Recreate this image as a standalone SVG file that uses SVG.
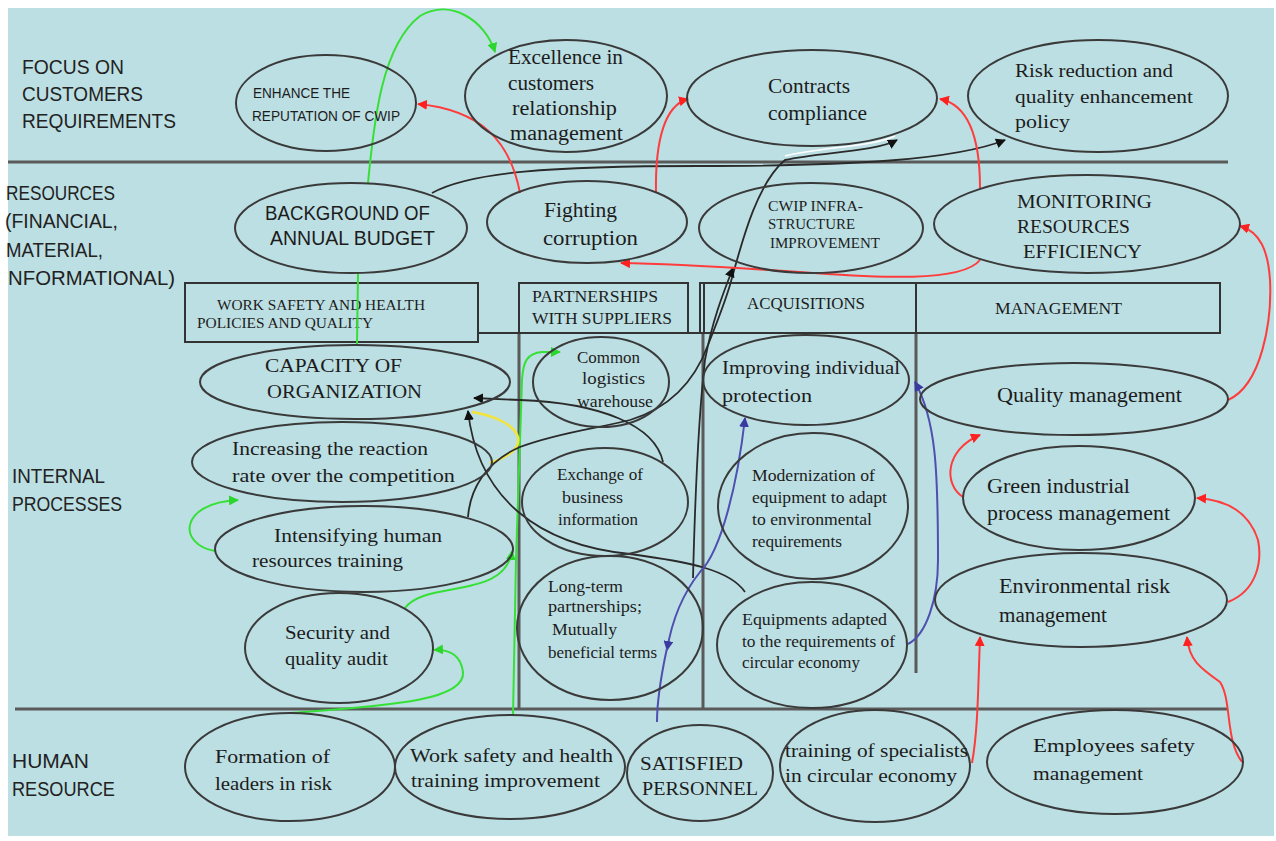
<svg xmlns="http://www.w3.org/2000/svg" width="1276" height="841" viewBox="0 0 1276 841">
<style>
.ell{fill:none;stroke:#3a3a3a;stroke-width:2}
.div{stroke:#5a5a5a;stroke-width:3;fill:none}
.box{fill:none;stroke:#333;stroke-width:2}
.lab{font-family:"Liberation Sans",Arial,sans-serif;font-size:20px;fill:#222}
.t{font-family:"Liberation Serif","Times New Roman",serif;fill:#1c1c1c}
.s{font-family:"Liberation Sans",Arial,sans-serif;fill:#1c1c1c}
.g{fill:none;stroke:#36e036;stroke-width:2}
.r{fill:none;stroke:#ff3c3c;stroke-width:2}
.k{fill:none;stroke:#2a2a2a;stroke-width:1.8}
.b{fill:none;stroke:#4f4fb0;stroke-width:2}
.y{fill:none;stroke:#f3e43c;stroke-width:2.5}
</style>
<defs>
<marker id="ag" viewBox="0 0 10 10" refX="9" refY="5" markerWidth="10" markerHeight="10" markerUnits="userSpaceOnUse" orient="auto-start-reverse"><path d="M0,0L10,5L0,10z" fill="#2cd62c"/></marker>
<marker id="ar" viewBox="0 0 10 10" refX="9" refY="5" markerWidth="10" markerHeight="10" markerUnits="userSpaceOnUse" orient="auto-start-reverse"><path d="M0,0L10,5L0,10z" fill="#ff2020"/></marker>
<marker id="ak" viewBox="0 0 10 10" refX="9" refY="5" markerWidth="10" markerHeight="10" markerUnits="userSpaceOnUse" orient="auto-start-reverse"><path d="M0,0L10,5L0,10z" fill="#111"/></marker>
<marker id="ab" viewBox="0 0 10 10" refX="9" refY="5" markerWidth="10" markerHeight="10" markerUnits="userSpaceOnUse" orient="auto-start-reverse"><path d="M0,0L10,5L0,10z" fill="#3a3aa0"/></marker>
</defs>
<rect x="8" y="8" width="1266" height="828" fill="#bcdfe3"/>

<g id="grid">
<line class="div" x1="8" y1="162" x2="1228" y2="162"/>
<line class="div" x1="15" y1="709" x2="1228" y2="709"/>
<line class="div" x1="519" y1="333" x2="519" y2="709"/>
<line class="div" x1="703" y1="333" x2="703" y2="709"/>
<line class="div" x1="916" y1="333" x2="916" y2="673"/>
<line class="box" x1="478" y1="333" x2="1220" y2="333"/>
</g>

<g id="row-labels">
<text class="lab" x="22" y="74" textLength="102" lengthAdjust="spacingAndGlyphs">FOCUS ON</text>
<text class="lab" x="22" y="101" textLength="121" lengthAdjust="spacingAndGlyphs">CUSTOMERS</text>
<text class="lab" x="22" y="128" textLength="154" lengthAdjust="spacingAndGlyphs">REQUIREMENTS</text>
<text class="lab" x="6" y="200" textLength="109" lengthAdjust="spacingAndGlyphs">RESOURCES</text>
<text class="lab" x="5" y="228" textLength="113" lengthAdjust="spacingAndGlyphs">(FINANCIAL,</text>
<text class="lab" x="6" y="257" textLength="97" lengthAdjust="spacingAndGlyphs">MATERIAL,</text>
<text class="lab" x="8" y="285" textLength="167" lengthAdjust="spacingAndGlyphs">NFORMATIONAL)</text>
<text class="lab" x="12" y="483" textLength="93" lengthAdjust="spacingAndGlyphs">INTERNAL</text>
<text class="lab" x="12" y="511" textLength="110" lengthAdjust="spacingAndGlyphs">PROCESSES</text>
<text class="lab" x="12" y="768" textLength="77" lengthAdjust="spacingAndGlyphs">HUMAN</text>
<text class="lab" x="12" y="796" textLength="103" lengthAdjust="spacingAndGlyphs">RESOURCE</text>
</g>

<g id="hdr-worksafety">
<rect class="box" x="185" y="283" width="293" height="59"/>
<text class="t" font-size="15" x="217" y="310" textLength="208" lengthAdjust="spacingAndGlyphs">WORK SAFETY AND HEALTH</text>
<text class="t" font-size="15" x="197" y="328" textLength="176" lengthAdjust="spacingAndGlyphs">POLICIES AND QUALITY</text>
</g>
<g id="hdr-partnerships">
<rect class="box" x="519" y="283" width="169" height="50"/>
<text class="t" font-size="16" x="532" y="302" textLength="126" lengthAdjust="spacingAndGlyphs">PARTNERSHIPS</text>
<text class="t" font-size="16" x="532" y="324" textLength="140" lengthAdjust="spacingAndGlyphs">WITH SUPPLIERS</text>
</g>
<g id="hdr-acquisitions">
<rect class="box" x="700" y="283" width="216" height="50"/>
<line class="box" x1="704" y1="283" x2="704" y2="333"/>
<text class="t" font-size="16" x="747" y="309" textLength="118" lengthAdjust="spacingAndGlyphs">ACQUISITIONS</text>
</g>
<g id="hdr-management">
<rect class="box" x="916" y="283" width="304" height="50"/>
<text class="t" font-size="16" x="995" y="314" textLength="127" lengthAdjust="spacingAndGlyphs">MANAGEMENT</text>
</g>

<g id="connectors">
<path class="g" d="M358,273 L357,345"/>
<path class="g" d="M368,183 C374,120 382,45 420,16 C450,-2 485,20 495,52" marker-end="url(#ag)"/>
<path class="g" d="M215,551 C178,545 178,503 238,500" marker-end="url(#ag)"/>
<path class="g" d="M405,608 C425,580 505,600 512,551" marker-end="url(#ag)"/>
<path class="g" d="M290,713 C380,706 466,702 463,672 C461,656 450,649 434,650" marker-end="url(#ag)"/>
<path class="g" d="M513,716 L516,560 L522,380 C523,362 527,353 542,352 L560,352" marker-end="url(#ag)"/>
<path class="y" d="M490,463 C505,458 521,450 518,437 C514,424 492,415 472,412"/>
<path class="k" d="M432,193 C470,172 550,166 700,166 C850,166 955,160 1005,140" marker-end="url(#ak)"/>
<path d="M785,156 C820,147 872,147 895,136" fill="none" stroke="#fff" stroke-width="1.5"/>
<path class="k" d="M468,517 C470,490 485,462 520,447 C560,432 600,428 630,420 C670,408 695,380 708,345 C716,325 724,305 730,285 C740,250 755,185 785,160 C820,152 875,152 897,140" marker-end="url(#ak)"/>
<path class="k" d="M693,578 C695,500 698,420 705,360 C712,322 722,296 733,268" marker-end="url(#ak)"/>
<path class="k" d="M663,462 C655,425 600,403 520,400 L474,398" marker-end="url(#ak)"/>
<path class="k" d="M745,592 C730,570 690,562 630,554 C540,545 478,500 468,411" marker-end="url(#ak)"/>
<path class="b" d="M745,418 C738,480 722,550 700,572 C684,592 672,620 667,650" marker-start="url(#ab)" marker-end="url(#ab)"/>
<path class="b" d="M667,648 C661,676 657,700 657,722"/>
<path class="b" d="M908,644 C926,635 938,600 938,560 C938,470 936,420 915,382" marker-end="url(#ab)"/>
<path class="r" d="M520,193 C510,140 480,110 418,104" marker-end="url(#ar)"/>
<path class="r" d="M656,193 C655,140 665,105 688,99" marker-end="url(#ar)"/>
<path class="r" d="M980,188 C980,140 970,105 940,99" marker-end="url(#ar)"/>
<path class="r" d="M980,260 C960,285 860,276 800,272 C740,268 680,264 621,263" marker-end="url(#ar)"/>
<path class="r" d="M1228,400 C1262,385 1272,320 1270,280 C1268,250 1260,232 1240,226" marker-end="url(#ar)"/>
<path class="r" d="M963,497 C944,485 944,450 980,435" marker-end="url(#ar)"/>
<path class="r" d="M1228,602 C1258,590 1262,560 1258,540 C1250,515 1230,500 1197,498" marker-end="url(#ar)"/>
<path class="r" d="M972,763 C978,730 978,690 980,637" marker-end="url(#ar)"/>
<path class="r" d="M1242,762 C1225,740 1232,700 1220,682 C1200,668 1189,660 1187,637" marker-end="url(#ar)"/>
</g>

<g id="enhance">
<ellipse class="ell" cx="326" cy="103" rx="90" ry="48"/>
<text class="s" font-size="15" x="253" y="98" textLength="97" lengthAdjust="spacingAndGlyphs">ENHANCE THE</text>
<text class="s" font-size="15" x="252" y="121" textLength="148" lengthAdjust="spacingAndGlyphs">REPUTATION OF CWIP</text>
</g>
<g id="excellence">
<ellipse class="ell" cx="566" cy="96" rx="101" ry="56"/>
<text class="t" font-size="20" x="508" y="64" textLength="115" lengthAdjust="spacingAndGlyphs">Excellence in</text>
<text class="t" font-size="20" x="508" y="90" textLength="86" lengthAdjust="spacingAndGlyphs">customers</text>
<text class="t" font-size="20" x="512" y="115" textLength="105" lengthAdjust="spacingAndGlyphs">relationship</text>
<text class="t" font-size="20" x="510" y="140" textLength="113" lengthAdjust="spacingAndGlyphs">management</text>
</g>
<g id="contracts">
<ellipse class="ell" cx="812" cy="98" rx="125" ry="48"/>
<text class="t" font-size="20" x="768" y="93" textLength="82" lengthAdjust="spacingAndGlyphs">Contracts</text>
<text class="t" font-size="20" x="768" y="120" textLength="99" lengthAdjust="spacingAndGlyphs">compliance</text>
</g>
<g id="risk-reduction">
<ellipse class="ell" cx="1098" cy="96" rx="130" ry="56"/>
<text class="t" font-size="19" x="1015" y="77" textLength="158" lengthAdjust="spacingAndGlyphs">Risk reduction and</text>
<text class="t" font-size="19" x="1015" y="103" textLength="178" lengthAdjust="spacingAndGlyphs">quality enhancement</text>
<text class="t" font-size="19" x="1015" y="128" textLength="55" lengthAdjust="spacingAndGlyphs">policy</text>
</g>
<g id="background-budget">
<ellipse class="ell" cx="351" cy="228" rx="116" ry="45"/>
<text class="s" font-size="20" x="265" y="220" textLength="165" lengthAdjust="spacingAndGlyphs">BACKGROUND OF</text>
<text class="s" font-size="20" x="270" y="245" textLength="165" lengthAdjust="spacingAndGlyphs">ANNUAL BUDGET</text>
</g>
<g id="fighting">
<ellipse class="ell" cx="587" cy="222" rx="100" ry="41"/>
<text class="t" font-size="21" x="544" y="217" textLength="73" lengthAdjust="spacingAndGlyphs">Fighting</text>
<text class="t" font-size="21" x="543" y="245" textLength="95" lengthAdjust="spacingAndGlyphs">corruption</text>
</g>
<g id="cwip-infra">
<ellipse class="ell" cx="811" cy="228" rx="112" ry="45"/>
<text class="t" font-size="15" x="768" y="211" textLength="95" lengthAdjust="spacingAndGlyphs">CWIP INFRA-</text>
<text class="t" font-size="15" x="768" y="229" textLength="87" lengthAdjust="spacingAndGlyphs">STRUCTURE</text>
<text class="t" font-size="15" x="770" y="248" textLength="110" lengthAdjust="spacingAndGlyphs">IMPROVEMENT</text>
</g>
<g id="monitoring">
<ellipse class="ell" cx="1087" cy="224" rx="153" ry="49"/>
<text class="t" font-size="19" x="1017" y="208" textLength="135" lengthAdjust="spacingAndGlyphs">MONITORING</text>
<text class="t" font-size="19" x="1017" y="233" textLength="113" lengthAdjust="spacingAndGlyphs">RESOURCES</text>
<text class="t" font-size="19" x="1023" y="258" textLength="119" lengthAdjust="spacingAndGlyphs">EFFICIENCY</text>
</g>

<g id="capacity">
<ellipse class="ell" cx="355" cy="382" rx="155" ry="37"/>
<text class="t" font-size="19" x="265" y="372" textLength="137" lengthAdjust="spacingAndGlyphs">CAPACITY OF</text>
<text class="t" font-size="19" x="267" y="398" textLength="155" lengthAdjust="spacingAndGlyphs">ORGANIZATION</text>
</g>
<g id="increasing">
<ellipse class="ell" cx="342" cy="462" rx="150" ry="40"/>
<text class="t" font-size="19" x="232" y="455" textLength="196" lengthAdjust="spacingAndGlyphs">Increasing the reaction</text>
<text class="t" font-size="19" x="232" y="482" textLength="223" lengthAdjust="spacingAndGlyphs">rate over the competition</text>
</g>
<g id="intensifying">
<ellipse class="ell" cx="364" cy="549" rx="149" ry="43"/>
<text class="t" font-size="18" x="274" y="542" textLength="168" lengthAdjust="spacingAndGlyphs">Intensifying human</text>
<text class="t" font-size="18" x="252" y="567" textLength="151" lengthAdjust="spacingAndGlyphs">resources training</text>
</g>
<g id="security">
<ellipse class="ell" cx="339" cy="648" rx="94" ry="55"/>
<text class="t" font-size="18" x="285" y="639" textLength="105" lengthAdjust="spacingAndGlyphs">Security and</text>
<text class="t" font-size="18" x="285" y="665" textLength="103" lengthAdjust="spacingAndGlyphs">quality audit</text>
</g>
<g id="common-logistics">
<ellipse class="ell" cx="601" cy="382" rx="68" ry="45"/>
<text class="t" font-size="16" x="577" y="363" textLength="63" lengthAdjust="spacingAndGlyphs">Common</text>
<text class="t" font-size="16" x="582" y="384" textLength="63" lengthAdjust="spacingAndGlyphs">logistics</text>
<text class="t" font-size="16" x="577" y="407" textLength="76" lengthAdjust="spacingAndGlyphs">warehouse</text>
</g>
<g id="exchange">
<ellipse class="ell" cx="605" cy="502" rx="83" ry="54"/>
<text class="t" font-size="16" x="557" y="480" textLength="86" lengthAdjust="spacingAndGlyphs">Exchange of</text>
<text class="t" font-size="16" x="562" y="503" textLength="61" lengthAdjust="spacingAndGlyphs">business</text>
<text class="t" font-size="16" x="558" y="525" textLength="80" lengthAdjust="spacingAndGlyphs">information</text>
</g>
<g id="long-term">
<ellipse class="ell" cx="610" cy="628" rx="93" ry="72"/>
<text class="t" font-size="16" x="548" y="592" textLength="75" lengthAdjust="spacingAndGlyphs">Long-term</text>
<text class="t" font-size="16" x="548" y="612" textLength="94" lengthAdjust="spacingAndGlyphs">partnerships;</text>
<text class="t" font-size="16" x="552" y="635" textLength="65" lengthAdjust="spacingAndGlyphs">Mutually</text>
<text class="t" font-size="16" x="548" y="658" textLength="109" lengthAdjust="spacingAndGlyphs">beneficial terms</text>
</g>
<g id="improving">
<ellipse class="ell" cx="806" cy="380" rx="103" ry="45"/>
<text class="t" font-size="19" x="722" y="374" textLength="178" lengthAdjust="spacingAndGlyphs">Improving individual</text>
<text class="t" font-size="19" x="722" y="402" textLength="90" lengthAdjust="spacingAndGlyphs">protection</text>
</g>
<g id="modernization">
<ellipse class="ell" cx="813" cy="506" rx="95" ry="73"/>
<text class="t" font-size="16" x="752" y="481" textLength="123" lengthAdjust="spacingAndGlyphs">Modernization of</text>
<text class="t" font-size="16" x="752" y="503" textLength="135" lengthAdjust="spacingAndGlyphs">equipment to adapt</text>
<text class="t" font-size="16" x="752" y="525" textLength="120" lengthAdjust="spacingAndGlyphs">to environmental</text>
<text class="t" font-size="16" x="752" y="547" textLength="90" lengthAdjust="spacingAndGlyphs">requirements</text>
</g>
<g id="equipments">
<ellipse class="ell" cx="812" cy="645" rx="95" ry="63"/>
<text class="t" font-size="16" x="742" y="625" textLength="145" lengthAdjust="spacingAndGlyphs">Equipments adapted</text>
<text class="t" font-size="16" x="742" y="647" textLength="153" lengthAdjust="spacingAndGlyphs">to the requirements of</text>
<text class="t" font-size="16" x="742" y="668" textLength="118" lengthAdjust="spacingAndGlyphs">circular economy</text>
</g>
<g id="quality-mgmt">
<ellipse class="ell" cx="1074" cy="399" rx="154" ry="36"/>
<text class="t" font-size="20" x="997" y="402" textLength="185" lengthAdjust="spacingAndGlyphs">Quality management</text>
</g>
<g id="green-process">
<ellipse class="ell" cx="1079" cy="498" rx="116" ry="52"/>
<text class="t" font-size="20" x="987" y="493" textLength="143" lengthAdjust="spacingAndGlyphs">Green industrial</text>
<text class="t" font-size="20" x="987" y="520" textLength="183" lengthAdjust="spacingAndGlyphs">process management</text>
</g>
<g id="env-risk">
<ellipse class="ell" cx="1081" cy="600" rx="146" ry="47"/>
<text class="t" font-size="20" x="999" y="593" textLength="171" lengthAdjust="spacingAndGlyphs">Environmental risk</text>
<text class="t" font-size="20" x="999" y="622" textLength="108" lengthAdjust="spacingAndGlyphs">management</text>
</g>

<g id="formation">
<ellipse class="ell" cx="290" cy="767" rx="105" ry="54"/>
<text class="t" font-size="19" x="215" y="763" textLength="115" lengthAdjust="spacingAndGlyphs">Formation of</text>
<text class="t" font-size="19" x="215" y="790" textLength="117" lengthAdjust="spacingAndGlyphs">leaders in risk</text>
</g>
<g id="work-safety-training">
<ellipse class="ell" cx="510" cy="767" rx="115" ry="52"/>
<text class="t" font-size="19" x="410" y="762" textLength="203" lengthAdjust="spacingAndGlyphs">Work safety and health</text>
<text class="t" font-size="19" x="411" y="787" textLength="189" lengthAdjust="spacingAndGlyphs">training improvement</text>
</g>
<g id="satisfied">
<ellipse class="ell" cx="700" cy="773" rx="73" ry="48"/>
<text class="t" font-size="19" x="640" y="770" textLength="103" lengthAdjust="spacingAndGlyphs">SATISFIED</text>
<text class="t" font-size="19" x="642" y="795" textLength="116" lengthAdjust="spacingAndGlyphs">PERSONNEL</text>
</g>
<g id="training-specialists">
<ellipse class="ell" cx="875" cy="766" rx="95" ry="56"/>
<text class="t" font-size="18" x="785" y="757" textLength="183" lengthAdjust="spacingAndGlyphs">training of specialists</text>
<text class="t" font-size="18" x="785" y="782" textLength="172" lengthAdjust="spacingAndGlyphs">in circular economy</text>
</g>
<g id="employees-safety">
<ellipse class="ell" cx="1115" cy="762" rx="128" ry="52"/>
<text class="t" font-size="19" x="1033" y="752" textLength="162" lengthAdjust="spacingAndGlyphs">Employees safety</text>
<text class="t" font-size="19" x="1033" y="780" textLength="110" lengthAdjust="spacingAndGlyphs">management</text>
</g>
</svg>
